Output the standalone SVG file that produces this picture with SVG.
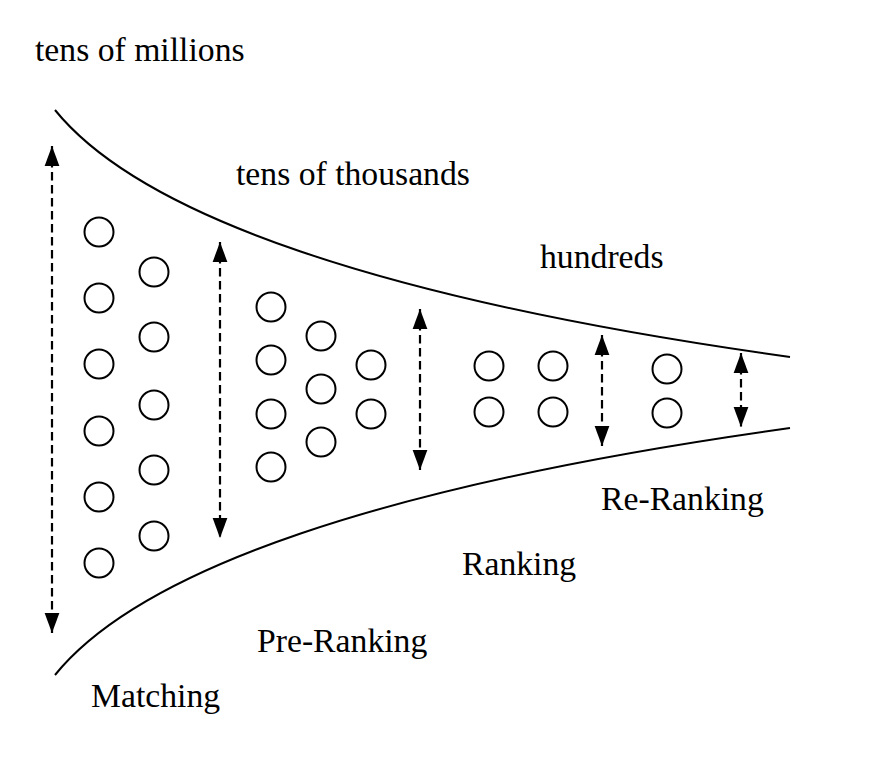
<svg xmlns="http://www.w3.org/2000/svg" width="880" height="764" viewBox="0 0 880 764">
<style>
.lbl{font-family:"Liberation Serif","Times New Roman",serif;font-size:33.7px;fill:#000}
.c{fill:#fff;stroke:#000;stroke-width:2}
.funnel{fill:none;stroke:#000;stroke-width:2}
.dash{fill:none;stroke:#000;stroke-width:2.2;stroke-dasharray:8.5 4.5}
</style>
<defs>
<marker id="ah" markerUnits="userSpaceOnUse" markerWidth="20" markerHeight="16" viewBox="0 0 19 14" refX="19" refY="7" orient="auto-start-reverse">
<path d="M0,0 L19,7 L0,14 Z" fill="#000"/>
</marker>
</defs>
<rect width="880" height="764" fill="#fff"/>
<g id="funnel">
<path class="funnel" d="M55,110 C140,215 380,300 790,357"/>
<path class="funnel" d="M55,675 C140,570 380,485 790,428"/>
</g>
<g id="labels">
<text class="lbl" x="35" y="61">tens of millions</text>
<text class="lbl" x="236" y="185">tens of thousands</text>
<text class="lbl" x="540" y="268">hundreds</text>
<text class="lbl" x="601" y="510">Re-Ranking</text>
<text class="lbl" x="462" y="575">Ranking</text>
<text class="lbl" x="257" y="652">Pre-Ranking</text>
<text class="lbl" x="91" y="707">Matching</text>
</g>
<g id="matching">
<circle class="c" cx="99" cy="232" r="14.5"/>
<circle class="c" cx="99" cy="298" r="14.5"/>
<circle class="c" cx="99" cy="364" r="14.5"/>
<circle class="c" cx="99" cy="431" r="14.5"/>
<circle class="c" cx="99" cy="497" r="14.5"/>
<circle class="c" cx="99" cy="563" r="14.5"/>
<circle class="c" cx="154" cy="272" r="14.5"/>
<circle class="c" cx="154" cy="337" r="14.5"/>
<circle class="c" cx="154" cy="405" r="14.5"/>
<circle class="c" cx="154" cy="470" r="14.5"/>
<circle class="c" cx="154" cy="536" r="14.5"/>
</g>
<g id="pre-ranking">
<circle class="c" cx="271" cy="307" r="14.5"/>
<circle class="c" cx="271" cy="360" r="14.5"/>
<circle class="c" cx="271" cy="414" r="14.5"/>
<circle class="c" cx="271" cy="467" r="14.5"/>
<circle class="c" cx="321" cy="336" r="14.5"/>
<circle class="c" cx="321" cy="389" r="14.5"/>
<circle class="c" cx="321" cy="442" r="14.5"/>
<circle class="c" cx="371" cy="365" r="14.5"/>
<circle class="c" cx="371" cy="414" r="14.5"/>
</g>
<g id="ranking">
<circle class="c" cx="489" cy="366" r="14.5"/>
<circle class="c" cx="489" cy="412" r="14.5"/>
<circle class="c" cx="553" cy="366" r="14.5"/>
<circle class="c" cx="553" cy="412" r="14.5"/>
</g>
<g id="re-ranking">
<circle class="c" cx="667" cy="369" r="14.5"/>
<circle class="c" cx="667" cy="413" r="14.5"/>
</g>
<g id="connectors">
<line class="dash" x1="52" y1="146" x2="52" y2="633" marker-start="url(#ah)" marker-end="url(#ah)"/>
<line class="dash" x1="220" y1="242" x2="220" y2="538" marker-start="url(#ah)" marker-end="url(#ah)"/>
<line class="dash" x1="420" y1="309" x2="420" y2="470" marker-start="url(#ah)" marker-end="url(#ah)"/>
<line class="dash" x1="602" y1="335" x2="602" y2="446" marker-start="url(#ah)" marker-end="url(#ah)"/>
<line class="dash" x1="741" y1="353" x2="741" y2="427" marker-start="url(#ah)" marker-end="url(#ah)"/>
</g>
</svg>
